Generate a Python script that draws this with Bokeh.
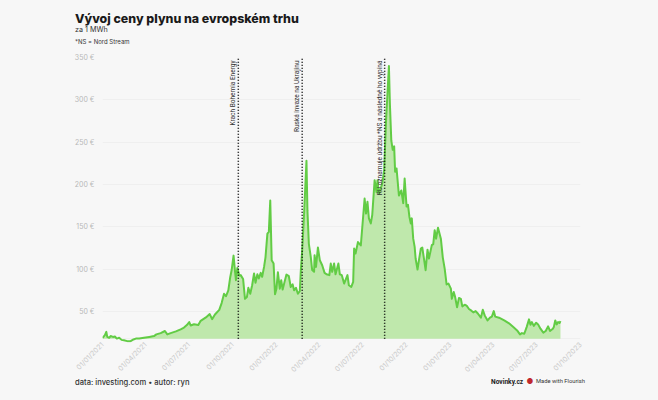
import math
import pandas as pd
from bokeh.embed import file_html
from bokeh.layouts import column
from bokeh.models import Div, FixedTicker, Label, Range1d
from bokeh.plotting import figure
from bokeh.resources import INLINE

TITLE = "Vývoj ceny plynu na evropském trhu"
SUBTITLE = "za 1 MWh"
NOTE = "*NS = Nord Stream"
SOURCE = "data: investing.com • autor: ryn"
BRAND = "Novinky.cz"
CREDIT = "Made with Flourish"

start_date = "2021-01-01"
day_offsets = [
    0, 2, 5, 8, 10, 14, 17, 22, 26, 30, 35, 40, 45, 52, 59, 65, 70, 77, 87, 98,
    108, 113, 122, 131, 136, 143, 154, 164, 171, 177, 182, 185, 192, 201, 206, 217, 225, 230, 236, 245,
    250, 255, 259, 264, 268, 271, 275, 278, 280, 283, 287, 290, 295, 299, 303, 306, 310, 314, 318, 321,
    325, 328, 332, 335, 339, 342, 346, 349, 352, 355, 359, 362, 365, 368, 372, 375, 378, 382, 386, 391,
    395, 399, 402, 406, 410, 414, 416, 419, 423, 428, 430, 433, 437, 440, 444, 445, 448, 452, 456, 461,
    466, 470, 476, 479, 482, 486, 489, 495, 498, 502, 507, 514, 517, 522, 526, 528, 531, 536, 542, 550,
    553, 556, 559, 563, 566, 571, 575, 577, 580, 587, 591, 595, 598, 601, 603, 606, 609, 612, 614, 617,
    622, 627, 631, 634, 638, 641, 644, 647, 649, 652, 655, 657, 661, 664, 668, 671, 675, 678, 682, 685,
    691, 694, 697, 700, 704, 710, 714, 718, 722, 726, 731, 733, 737, 740, 744, 748, 752, 755, 760, 764,
    769, 774, 778, 783, 788, 794, 798, 802, 808, 813, 817, 821, 824, 832, 843, 853, 862, 870, 876, 880,
    885, 890, 895, 898, 901, 905, 910, 914, 919, 925, 930, 935, 939, 945, 947, 950, 953, 956, 959, 961,
]
price_eur = [
    19, 20, 22, 26, 20, 19, 21, 20, 20.5, 18, 19, 16.5, 16, 15, 15, 17, 18, 18, 19, 20,
    21, 23, 24.5, 27, 23, 24.5, 26.5, 29, 31, 34, 37.5, 33.5, 35, 34, 39, 43, 47, 41, 46.5, 52,
    60, 71, 68, 75, 90.5, 99, 116, 98, 87, 101.5, 92.5, 93, 88.5, 65, 67, 78, 71, 81, 95, 84,
    94, 89, 95.6, 91, 102.7, 114, 142, 144, 181, 110.6, 106.6, 70.4, 77, 96.4, 77, 87, 76, 85, 93.6, 91.7,
    79, 82, 75, 78, 71, 74, 96.8, 122.4, 165.7, 228, 169.7, 130, 114.5, 99, 97, 116.5, 102.7, 125.6, 110.6, 104.7,
    95.6, 94, 93, 106.6, 96.8, 106.6, 94, 106.6, 94, 93, 83, 93, 81, 79, 85, 124.4, 118.5, 132, 128, 183.5,
    165.7, 179.5, 160, 154, 164, 205, 191, 205, 189, 201, 217, 276, 308, 340, 296, 252, 241, 245, 215, 219,
    187, 193, 178, 207, 174, 176, 162, 154, 160, 136, 126.4, 112.6, 99.6, 110.6, 124.4, 125.6, 110.6, 98.8, 123, 112.6,
    128.4, 129.5, 146, 136, 149, 136, 114, 100.6, 82, 83, 77, 65, 73, 67, 55, 66, 65, 56, 58, 57,
    53, 51, 49, 50.5, 47.4, 42.7, 52, 45.4, 39.5, 42.7, 44, 50.5, 44, 42.7, 39.5, 36, 31.6, 27.7, 23, 24.5,
    23.7, 31.6, 40.7, 34.4, 37.5, 33, 36.8, 34.8, 29.7, 25, 27, 32.4, 27, 29.7, 31.6, 39.5, 34.8, 37.5, 36.4, 38.7,
]
y_floor = 17.8
y_axis_start = 13.4
y_ticks = [50, 100, 150, 200, 250, 300, 350]
y_tick_labels = ["50 €", "100 €", "150 €", "200 €", "250 €", "300 €", "350 €"]
x_tick_labels = [
    "01/01/2021", "01/04/2021", "01/07/2021", "01/10/2021", "01/01/2022", "01/04/2022",
    "01/07/2022", "01/10/2022", "01/01/2023", "01/04/2023", "01/07/2023", "01/10/2023",
]
event_dates = ["2021-10-13", "2022-02-24", "2022-08-16"]
event_labels = [
    "Krach Bohemia Energy",
    "Ruská invaze na Ukrajinu",
    "RU oznamuje údržbu *NS a následně ho vypíná",
]

BG = "#f7f7f7"
FONT = "Inter"
PAGE_W = 658
HEADER_H, FOOTER_H = 45, 30
PLOT_H = 400 - HEADER_H
FRAME_LEFT, FRAME_TOP, FRAME_RIGHT, FRAME_BOTTOM = 102, 57 - HEADER_H, 580, 342 - HEADER_H
dates = pd.Timestamp(start_date) + pd.to_timedelta(day_offsets, unit="D")
first = pd.to_datetime(x_tick_labels[0], dayfirst=True)
last = pd.to_datetime(x_tick_labels[-1], dayfirst=True)
tick_ms = [int(pd.to_datetime(t, dayfirst=True).timestamp() * 1000) for t in x_tick_labels]

p = figure(
    width=PAGE_W, height=PLOT_H, output_backend="svg", toolbar_location=None,
    x_axis_type="datetime",
    x_range=Range1d(first, last), y_range=Range1d(y_axis_start, y_ticks[-1]),
    background_fill_color=BG, border_fill_color=BG,
    min_border_left=FRAME_LEFT, min_border_right=PAGE_W - FRAME_RIGHT,
    min_border_top=FRAME_TOP, min_border_bottom=PLOT_H - FRAME_BOTTOM,
    margin=(0, 0, 0, 0),
)
p.outline_line_color = None
p.xgrid.grid_line_color = None
p.ygrid.grid_line_color = "#efefef"
p.ygrid.ticker = FixedTicker(ticks=[y_floor] + y_ticks)

p.varea(x=dates, y1=[y_floor] * len(dates), y2=[max(v, y_floor) for v in price_eur], fill_color="#bfe8ac")
p.line(x=dates, y=price_eur, line_color="#62cc45", line_width=2, line_join="round")

for when, text in zip(event_dates, event_labels):
    ts = pd.Timestamp(when)
    p.line(x=[ts, ts], y=[y_floor, y_ticks[-1]], line_color="#000000", line_width=1.5, line_dash=[1, 2])
    p.add_layout(Label(
        x=ts, y=y_ticks[-1], x_offset=-5, y_offset=-3, text=text, angle=math.pi / 2,
        text_align="right", text_baseline="middle", text_font="Roboto",
        text_font_size="6.5px", text_color="#333333",
    ))

xa = p.xaxis[0]
xa.ticker = FixedTicker(ticks=tick_ms)
xa.major_label_overrides = dict(zip(tick_ms, x_tick_labels))
xa.major_label_orientation = math.pi / 4
xa.major_label_text_color = "#c9c9c9"
xa.major_label_text_font = FONT
xa.major_label_text_font_size = "7px"
xa.major_label_standoff = 1
xa.major_tick_out = 0
xa.major_tick_in = 0
xa.axis_line_color = None
xa.major_tick_line_color = None
xa.minor_tick_line_color = None

ya = p.yaxis[0]
ya.ticker = FixedTicker(ticks=y_ticks)
ya.major_label_overrides = dict(zip(y_ticks, y_tick_labels))
ya.major_label_text_color = "#b8b8b8"
ya.major_label_text_font = FONT
ya.major_label_text_font_size = "7px"
ya.major_label_standoff = 8
ya.major_tick_out = 0
ya.major_tick_in = 0
ya.axis_line_color = None
ya.major_tick_line_color = None
ya.minor_tick_line_color = None


def span(text, x, y, size, color, weight=400, font=FONT):
    # y is the text's vertical centre inside its strip
    return (
        f'<span style="position:absolute;left:{x}px;top:{y}px;transform:translateY(-50%);'
        f"font:{weight} {size}px/1 {font},sans-serif;color:{color};white-space:nowrap\">{text}</span>"
    )


def strip(height, margin, *parts):
    return Div(
        text=f'<div style="position:relative;width:{PAGE_W}px;height:{height}px">{"".join(parts)}</div>',
        width=PAGE_W, height=height, margin=margin,
    )


header = strip(
    HEADER_H, (0, 0, 0, 0),
    span(TITLE, 75, 19, 12.4, "#1a1a1a", 800),
    span(SUBTITLE, 75, 30, 7.2, "#333333"),
    span(NOTE, 75, 42, 6, "#333333"),
)
footer_top = 400 - FOOTER_H
footer = strip(
    FOOTER_H, (-FOOTER_H, 0, 0, 0),
    span(SOURCE, 75, 383 - footer_top, 7.6, "#333333", 500),
    span(BRAND, 491, 382 - footer_top, 6.6, "#222222", 700, "Roboto"),
    span("●", 526.5, 382 - footer_top, 7.5, "#c0272d"),
    span(CREDIT, 536, 382 - footer_top, 5.8, "#333333", 400, "Roboto"),
)

page = column(header, p, footer, spacing=0, margin=(0, 0, 0, 0))

html = file_html(page, INLINE)
html = html.replace("<head>", f"<head><style>html,body{{background:{BG};margin:0;overflow:hidden}}</style>", 1)
open("out.html", "w").write(html)
